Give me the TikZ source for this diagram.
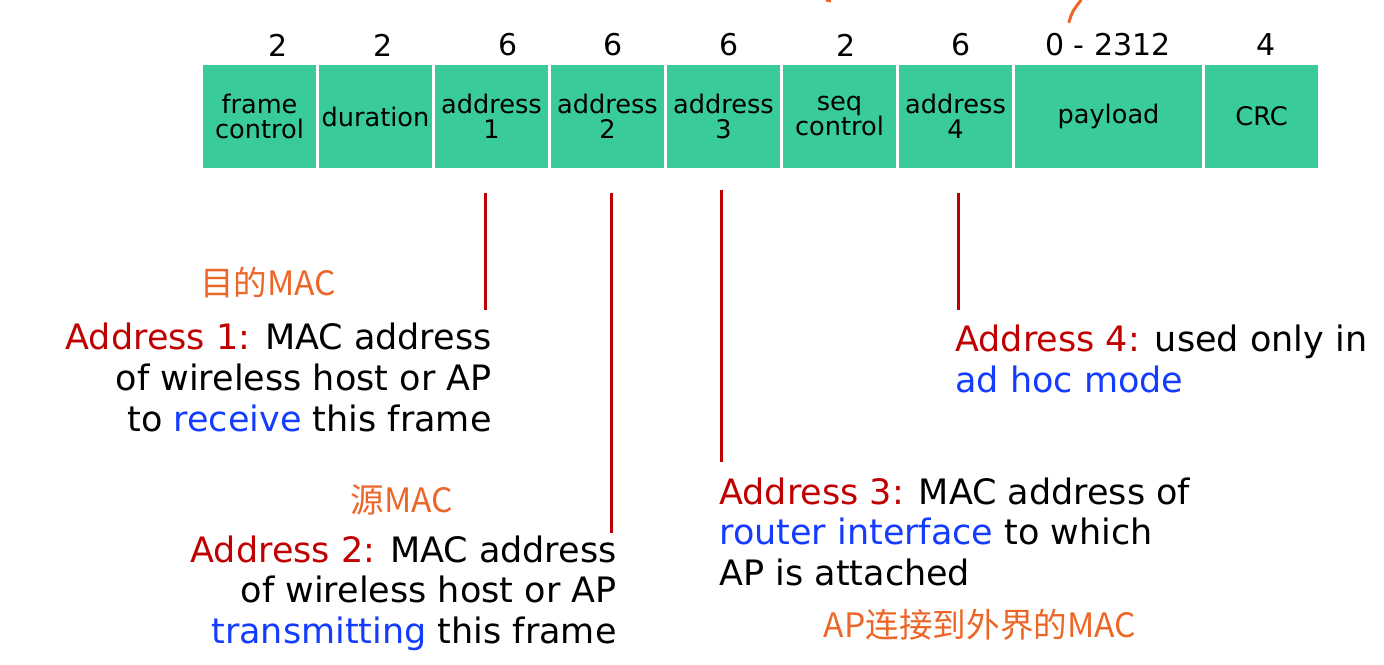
\documentclass[tikz,border=0pt]{standalone}
\usepackage{fontspec}
\setmainfont{DejaVu Sans}
\newfontfamily\cjk{Noto Sans CJK SC}
\usepackage{xcolor}
\usetikzlibrary{positioning}

\definecolor{fieldgreen}{RGB}{58,203,155}
\definecolor{notered}{RGB}{192,0,0}
\definecolor{noteblue}{RGB}{20,60,255}
\definecolor{inkorange}{RGB}{236,102,40}

\begin{document}
\begin{tikzpicture}[x=0.5pt, y=-0.5pt, node distance=1.5pt,
    field/.style={fill=fieldgreen, minimum width=56.5pt, minimum height=51.5pt,
      inner sep=0pt, outer sep=0pt, align=center, font=\fontsize{12.8}{12.5}\selectfont},
    bytes/.style={font=\fontsize{15}{18}\selectfont, inner sep=0pt},
    pointer/.style={notered, line width=1.5pt},
    note/.style={font=\fontsize{17.5}{20.3}\selectfont, inner sep=0pt},
    scribble/.style={inkorange, font=\cjk\fontsize{16.8}{20}\selectfont, inner sep=0pt}]
    \useasboundingbox (0,0) rectangle (1384,664);

    % frame fields
    \node[field, anchor=north west] (fc) at (203,65) {frame\\control};
    \node[field, right=of fc] (dur) {duration};
    \node[field, right=of dur] (a1) {address\\1};
    \node[field, right=of a1] (a2) {address\\2};
    \node[field, right=of a2] (a3) {address\\3};
    \node[field, right=of a3] (sc) {seq\\control};
    \node[field, right=of sc] (a4) {address\\4};
    \node[field, right=of a4, minimum width=93.5pt] (pay) {payload};
    \node[field, right=of pay] (crc) {CRC};

    % field sizes
    \node[bytes] (nfc) at (278,45) {2};
    \node[bytes] (ndur) at (383,45) {2};
    \node[bytes] (na1) at (508,45) {6};
    \node[bytes] (na2) at (613,45) {6};
    \node[bytes] (na3) at (729,45) {6};
    \node[bytes] (nsc) at (846,45) {2};
    \node[bytes] (na4) at (961,45) {6};
    \node[bytes] (npay) at (1108,45) {0 - 2312};
    \node[bytes] (ncrc) at (1266,45) {4};

    % pointers
    \coordinate (p1) at (485,193);
    \coordinate (q1) at (485,310);
    \coordinate (p2) at (611,193);
    \coordinate (q2) at (611,533);
    \coordinate (p3) at (721,190);
    \coordinate (q3) at (721,462);
    \coordinate (p4) at (958,193);
    \coordinate (q4) at (958,310);
    \draw[pointer] (p1) -- (q1);
    \draw[pointer] (p2) -- (q2);
    \draw[pointer] (p3) -- (q3);
    \draw[pointer] (p4) -- (q4);

    % notes
    \node[note, anchor=north east, align=right] (d1) at (492,323)
      {\textcolor{notered}{Address 1:} MAC address\\of wireless host or AP\\to \textcolor{noteblue}{receive} this frame};
    \node[note, anchor=north east, align=right] (d2) at (617,535)
      {\textcolor{notered}{Address 2:} MAC address\\of wireless host or AP\\\textcolor{noteblue}{transmitting} this frame};
    \node[note, anchor=north west, align=left] (d3) at (719,477)
      {\textcolor{notered}{Address 3:} MAC address of\\\textcolor{noteblue}{router interface} to which\\AP is attached};
    \node[note, anchor=north west, align=left] (d4) at (955,325)
      {\textcolor{notered}{Address 4:} used only in\\\textcolor{noteblue}{ad hoc mode}};

    % handwritten remarks
    \node[scribble] (h1) at (268,283) {目的MAC};
    \node[scribble] (h2) at (402,500) {源MAC};
    \node[scribble] (h3) at (980,625) {AP连接到外界的MAC};
    \draw[inkorange, line width=1.5pt, line cap=round] (1069,22) .. controls (1072,12) .. (1081,0);
    \draw[inkorange, line width=1.5pt] (826,0) -- (831,1);
\end{tikzpicture}
\end{document}
